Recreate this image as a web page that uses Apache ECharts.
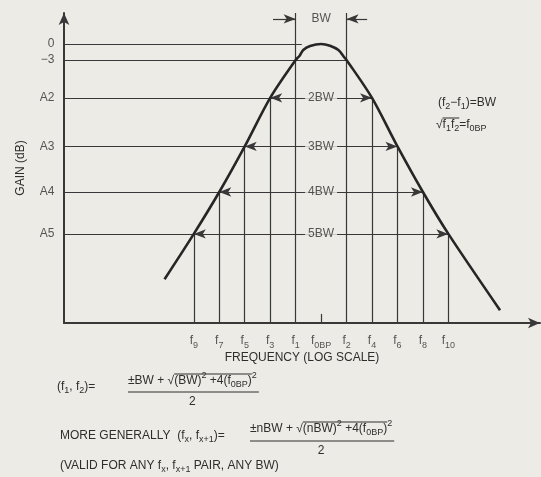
<!DOCTYPE html>
<html>
<head>
<meta charset="utf-8">
<script src="https://cdn.jsdelivr.net/npm/echarts@6/dist/echarts.min.js"></script>
<style>
html,body{margin:0;padding:0;background:#ecebe6;}
#chart{width:541px;height:477px;}
</style>
</head>
<body>
<div id="chart"></div>
<script>
// ---- data ----
const levelNames   = ['0', '\u22123', 'A2', 'A3', 'A4', 'A5'];
const levelGain    = [0, -3, -10.1, -19.2, -27.75, -35.6];
const levelLineEnd = [-0.76, 1, 2, 3, 4, 5];
const spanLabels   = [null, null, '2BW', '3BW', '4BW', '5BW'];
const spanHalf     = [null, null, 2, 3, 4, 5];

const freqSub  = ['9', '7', '5', '3', '1', '0BP', '2', '4', '6', '8', '10'];
const freqPos  = [-5, -4, -3, -2, -1, 0, 1, 2, 3, 4, 5];
const freqTop  = [-35.6, -27.75, -19.2, -10.1, 5.8, -50.6, 5.8, -10.1, -19.2, -27.75, -35.6];

const curveX = [-6.15, -5, -4, -3, -2, -1, -0.85, -0.7, -0.43, 0, 0.35, 0.68, 0.9, 1, 2, 3, 4, 5, 7.03];
const curveY = [-44.1, -35.6, -27.75, -19.2, -10.1, -3, -2.25, -1.13, -0.38, 0, -0.32, -1.13, -2.44, -3, -10.1, -19.2, -27.75, -35.6, -49.9];

const bwArrowY = 4.69;
const bwArrowTail = [-1.89, 1.81];
const bwArrowTip = [-1, 1];

const XMIN = -10.1, XMAX = 8.6, YMIN = -52.3, YMAX = 5.8;

// ---- style ----
const BG = '#ecebe6', INK = '#2e2e2e', LINE = '#383838';
const FONT = '"Liberation Sans", Arial, sans-serif';

const chart = echarts.init(document.getElementById('chart'), null, {renderer: 'canvas'});

const guides = [];
levelGain.forEach((g, i) => guides.push([{coord: [XMIN, g]}, {coord: [levelLineEnd[i], g]}]));
freqPos.forEach((x, i) => guides.push([{coord: [x, YMIN]}, {coord: [x, freqTop[i]]}]));
spanHalf.forEach((h, i) => {
  if (h == null) return;
  guides.push([{coord: [-h, levelGain[i]], symbol: 'arrow'}, {coord: [h, levelGain[i]], symbol: 'arrow'}]);
});
bwArrowTail.forEach((t, i) => guides.push([{coord: [t, bwArrowY], symbol: 'none'}, {coord: [bwArrowTip[i], bwArrowY], symbol: 'arrow'}]));

const spanLabelData = [];
spanHalf.forEach((h, i) => { if (h != null) spanLabelData.push({name: spanLabels[i], value: [0, levelGain[i]]}); });
spanLabelData.push({name: 'BW', value: [0, bwArrowY]});

// ---- text layout helper for formulas ----
const mctx = document.createElement('canvas').getContext('2d');
function tw(t, size) { mctx.font = size + 'px ' + FONT; return mctx.measureText(t).width; }
function runText(x, y, tokens, out) {
  let cx = x; const marks = [];
  tokens.forEach(([t, k]) => {
    const size = k === 'n' ? 12 : 9;
    const dy = k === 'sub' ? 4 : (k === 'sup' ? -5 : 0);
    out.push({type: 'text', x: cx, y: y + dy, silent: true,
      style: {text: t, font: size + 'px ' + FONT, fill: INK, textAlign: 'left', textVerticalAlign: 'middle'}});
    marks.push(cx);
    cx += tw(t, size);
  });
  marks.push(cx);
  return marks;
}
function hline(x1, x2, y, out, w) {
  out.push({type: 'line', silent: true, shape: {x1: x1, y1: y, x2: x2, y2: y}, style: {stroke: INK, lineWidth: w || 1}});
}
const g = [];
// annotation at right
runText(438, 103, [['(f','n'],['2','sub'],['\u2212f','n'],['1','sub'],[')=BW','n']], g);
let m = runText(436, 125, [['\u221a','n'],['f','n'],['1','sub'],['f','n'],['2','sub'],['=f','n'],['0BP','sub']], g);
hline(m[1], m[5], 118, g);

// formula 1
runText(57, 387, [['(f','n'],['1','sub'],[', f','n'],['2','sub'],[')=','n']], g);
m = runText(128, 381, [['\u00b1BW + ','n'],['\u221a','n'],['(BW)','n'],['2','sup'],[' +4(f','n'],['0BP','sub'],[')','n'],['2','sup']], g);
hline(m[2], m[7], 374, g);
hline(m[0], m[8] + 2, 392, g);
g.push({type: 'text', x: (m[0] + m[8]) / 2, y: 402, silent: true, style: {text: '2', font: '12px ' + FONT, fill: INK, textAlign: 'center', textVerticalAlign: 'middle'}});

// formula 2
runText(60, 436, [['MORE GENERALLY  (f','n'],['x','sub'],[', f','n'],['x+1','sub'],[')=','n']], g);
m = runText(250, 429, [['\u00b1nBW + ','n'],['\u221a','n'],['(nBW)','n'],['2','sup'],[' +4(f','n'],['0BP','sub'],[')','n'],['2','sup']], g);
hline(m[2], m[7], 422, g);
hline(m[0], m[8] + 2, 441, g);
g.push({type: 'text', x: (m[0] + m[8]) / 2, y: 451, silent: true, style: {text: '2', font: '12px ' + FONT, fill: INK, textAlign: 'center', textVerticalAlign: 'middle'}});

// line 3
runText(60, 466, [['(VALID FOR ANY f','n'],['x','sub'],[', f','n'],['x+1','sub'],[' PAIR, ANY BW)','n']], g);

const axisCommon = {
  axisTick: {show: false}, axisLabel: {show: false}, splitLine: {show: false},
  nameTextStyle: {color: INK, fontSize: 12, fontFamily: FONT}
};

chart.setOption({
  backgroundColor: BG,
  animation: false,
  grid: {left: 64, right: 1, top: 13, bottom: 154},
  xAxis: Object.assign({type: 'value', min: XMIN, max: XMAX,
    name: 'FREQUENCY (LOG SCALE)', nameLocation: 'middle', nameGap: 29,
    axisLine: {onZero: false, symbol: ['none', 'arrow'], symbolSize: [8, 12], lineStyle: {color: LINE, width: 2}}}, axisCommon),
  yAxis: Object.assign({type: 'value', min: YMIN, max: YMAX,
    name: 'GAIN (dB)', nameLocation: 'middle', nameGap: 37, nameRotate: 90,
    axisLine: {onZero: false, symbol: ['none', 'arrow'], symbolSize: [8, 12], lineStyle: {color: LINE, width: 2}}}, axisCommon),
  series: [
    {
      type: 'line', data: [], silent: true,
      markLine: {
        silent: true, symbol: ['none', 'none'], symbolSize: [7, 12], precision: 4,
        label: {show: false},
        lineStyle: {color: LINE, width: 1.2, type: 'solid'},
        emphasis: {disabled: true},
        data: guides
      }
    },
    {
      type: 'line', silent: true, z: 5,
      data: curveX.map((x, i) => [x, curveY[i]]),
      showSymbol: false, symbol: 'none', smooth: 0.3,
      lineStyle: {color: '#262626', width: 2.6}
    },
    {
      type: 'scatter', silent: true, symbolSize: 1, itemStyle: {color: 'rgba(0,0,0,0)'},
      data: levelNames.map((n, i) => ({name: n, value: [XMIN, levelGain[i]]})),
      label: {show: true, position: 'left', distance: 9, formatter: '{b}', color: INK, fontSize: 12, fontFamily: FONT}
    },
    {
      type: 'scatter', silent: true, symbolSize: 1, itemStyle: {color: 'rgba(0,0,0,0)'},
      data: freqPos.map((x, i) => ({name: freqSub[i], value: [x, YMIN]})),
      label: {
        show: true, position: 'bottom', distance: 7,
        formatter: p => '{m|f}{s|' + p.name + '}',
        rich: {
          m: {fontSize: 12, fontFamily: FONT, color: INK, lineHeight: 20, verticalAlign: 'middle'},
          s: {fontSize: 9, fontFamily: FONT, color: INK, lineHeight: 12, verticalAlign: 'bottom'}
        }
      }
    },
    {
      type: 'scatter', silent: true, symbolSize: 1, z: 6, itemStyle: {color: 'rgba(0,0,0,0)'},
      data: spanLabelData,
      label: {show: true, position: 'inside', formatter: '{b}', color: INK, fontSize: 12, fontFamily: FONT,
              backgroundColor: BG, padding: [1, 3]}
    }
  ],
  graphic: g
});
</script>
</body>
</html>
